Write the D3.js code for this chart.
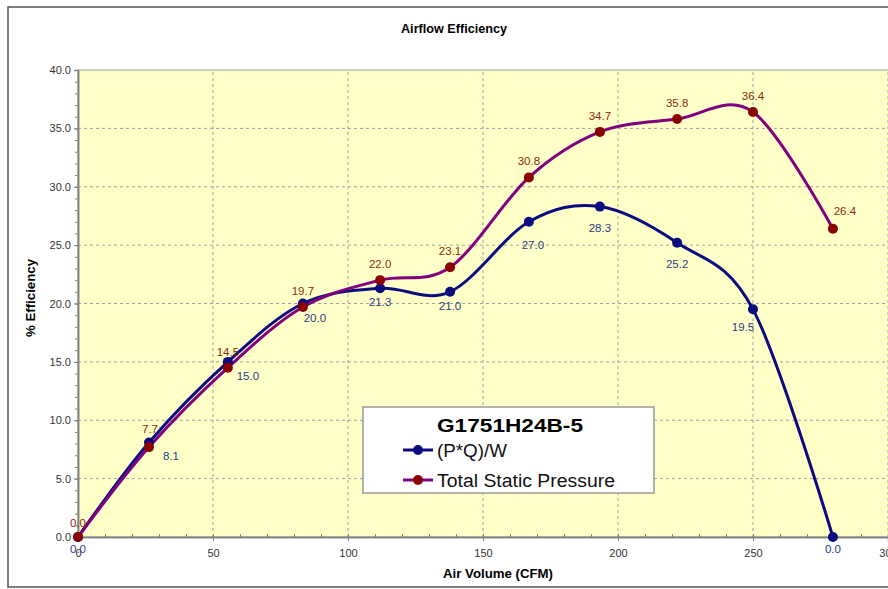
<!DOCTYPE html>
<html>
<head>
<meta charset="utf-8">
<script src="https://cdn.jsdelivr.net/npm/d3@7"></script>
<style>
  body { margin: 0; background: #fff; }
  text { font-family: "Liberation Sans", Arial, sans-serif; }
</style>
</head>
<body>
<svg id="chart" width="888" height="589"></svg>
<script>
// chart data
var airVolume = [0, 26.3, 55.5, 83.3, 111.9, 137.8, 167, 193.3, 221.9, 250, 279.6];
var pqw = [0.0, 8.1, 15.0, 20.0, 21.3, 21.0, 27.0, 28.3, 25.2, 19.5, 0.0];
var tsp = [0.0, 7.7, 14.5, 19.7, 22.0, 23.1, 30.8, 34.7, 35.8, 36.4, 26.4];
var xTicks = [0, 50, 100, 150, 200, 250, 300];
var yTicks = [0, 5, 10, 15, 20, 25, 30, 35, 40];
var legendTitle = 'G1751H24B-5';
var seriesNames = ['(P*Q)/W', 'Total Static Pressure'];

var svg = d3.select('#chart');

// outer frame
svg.append('rect').attr('x', 8).attr('y', 7).attr('width', 900).attr('height', 580)
    .attr('fill', '#fff').attr('stroke', '#555').attr('stroke-width', 1.5);

var x = d3.scaleLinear().domain([0, 300]).range([78, 888]);
var y = d3.scaleLinear().domain([0, 40]).range([537, 70]);

// plot area
svg.append('rect').attr('x', x(0)).attr('y', y(40))
    .attr('width', x(300) - x(0) + 10).attr('height', y(0) - y(40))
    .attr('fill', '#ffffc8').attr('stroke', '#999').attr('stroke-width', 1);

// grid
svg.append('g').selectAll('line').data(yTicks.slice(1, -1)).enter().append('line')
    .attr('x1', x(0)).attr('x2', 888)
    .attr('y1', function(d){ return y(d); }).attr('y2', function(d){ return y(d); })
    .attr('stroke', '#a0a0a0').attr('stroke-dasharray', '3,3');
svg.append('g').selectAll('line').data(xTicks.slice(1)).enter().append('line')
    .attr('y1', y(0)).attr('y2', y(40))
    .attr('x1', function(d){ return x(d); }).attr('x2', function(d){ return x(d); })
    .attr('stroke', '#a0a0a0').attr('stroke-dasharray', '3,3');

// axes
var yAxis = svg.append('g').attr('transform', 'translate(' + x(0) + ',0)')
    .call(d3.axisLeft(y).tickValues(yTicks).tickFormat(d3.format('.1f')).tickSize(4));
var yMinor = svg.append('g').attr('transform', 'translate(' + x(0) + ',0)')
    .call(d3.axisLeft(y).tickValues(d3.range(0, 41, 1)).tickFormat('').tickSize(3).tickSizeOuter(0));
var xAxis = svg.append('g').attr('transform', 'translate(0,' + y(0) + ')')
    .call(d3.axisBottom(x).tickValues(xTicks).tickFormat(d3.format('d')).tickSize(4));
var xMinor = svg.append('g').attr('transform', 'translate(0,' + y(0) + ')')
    .call(d3.axisBottom(x).tickValues(d3.range(0, 301, 10)).tickFormat('').tickSize(-3).tickSizeOuter(0));

[yAxis, yMinor, xAxis, xMinor].forEach(function(a){
  a.select('.domain').attr('stroke', '#808080').attr('stroke-width', 1.5);
  a.selectAll('.tick line').attr('stroke', '#808080');
  a.selectAll('text').attr('font-size', 11).attr('fill', '#333')
      .attr('font-family', '"Liberation Sans", Arial, sans-serif');
});
xAxis.selectAll('text').attr('dy', '1.2em');

// titles
svg.append('text').attr('x', 454).attr('y', 33).attr('text-anchor', 'middle')
    .attr('font-size', 12).attr('font-weight', 'bold')
    .attr('textLength', 106).attr('lengthAdjust', 'spacingAndGlyphs').text('Airflow Efficiency');
svg.append('text').attr('x', 498).attr('y', 578).attr('text-anchor', 'middle')
    .attr('font-size', 12).attr('font-weight', 'bold')
    .attr('textLength', 110).attr('lengthAdjust', 'spacingAndGlyphs').text('Air Volume (CFM)');
svg.append('text').attr('transform', 'translate(35,298) rotate(-90)')
    .attr('text-anchor', 'middle').attr('font-size', 12).attr('font-weight', 'bold')
    .attr('textLength', 78).attr('lengthAdjust', 'spacingAndGlyphs').text('% Efficiency');

// series
var line = d3.line().curve(d3.curveCatmullRom.alpha(0))
    .x(function(d){ return x(d[0]); }).y(function(d){ return y(d[1]); });

var series = [
  {values: pqw, line: '#0c0c80', marker: '#0c0c80', label: '#2b3a8c',
   dx: [0, 22, 20, 12, 0, 0, 4, 0, 0, -10, 0], dy: [16, 18, 18, 18, 18, 18, 27, 25, 25, 22, 16]},
  {values: tsp, line: '#800080', marker: '#8b0000', label: '#8b2a10',
   dx: [0, 1, 0, 0, 0, 0, 0, 0, 0, 0, 12], dy: [-10, -14, -12, -12, -12, -12, -12, -12, -12, -12, -14]}
];

series.forEach(function(s){
  var pts = airVolume.map(function(v, i){ return [v, s.values[i]]; });
  svg.append('path').datum(pts).attr('d', line)
      .attr('fill', 'none').attr('stroke', s.line).attr('stroke-width', 3);
});
series.forEach(function(s){
  var pts = airVolume.map(function(v, i){ return [v, s.values[i]]; });
  svg.append('g').selectAll('circle').data(pts).enter().append('circle')
      .attr('cx', function(d){ return x(d[0]); }).attr('cy', function(d){ return y(d[1]); })
      .attr('r', 5).attr('fill', s.marker);
  svg.append('g').selectAll('text').data(pts).enter().append('text')
      .attr('x', function(d, i){ return x(d[0]) + s.dx[i]; })
      .attr('y', function(d, i){ return y(d[1]) + s.dy[i]; })
      .attr('text-anchor', 'middle').attr('font-size', 11.5).attr('fill', s.label)
      .text(function(d){ return d[1].toFixed(1); });
});

// legend
var lg = svg.append('g').attr('transform', 'translate(363,407)');
lg.append('rect').attr('width', 291).attr('height', 86)
    .attr('fill', '#fff').attr('stroke', '#999').attr('stroke-width', 1.5);
lg.append('text').attr('x', 147).attr('y', 25).attr('text-anchor', 'middle')
    .attr('font-size', 18).attr('font-weight', 'bold')
    .attr('textLength', 146).attr('lengthAdjust', 'spacingAndGlyphs').text(legendTitle);
var entryWidths = [70, 178];
seriesNames.forEach(function(name, i){
  var yy = 43 + i * 30;
  lg.append('line').attr('x1', 40).attr('x2', 70).attr('y1', yy).attr('y2', yy)
      .attr('stroke', series[i].line).attr('stroke-width', 3);
  lg.append('circle').attr('cx', 55).attr('cy', yy).attr('r', 5).attr('fill', series[i].marker);
  lg.append('text').attr('x', 74).attr('y', yy + 7).attr('font-size', 18).attr('fill', '#111')
      .attr('textLength', entryWidths[i]).attr('lengthAdjust', 'spacingAndGlyphs').text(name);
});
</script>
</body>
</html>
